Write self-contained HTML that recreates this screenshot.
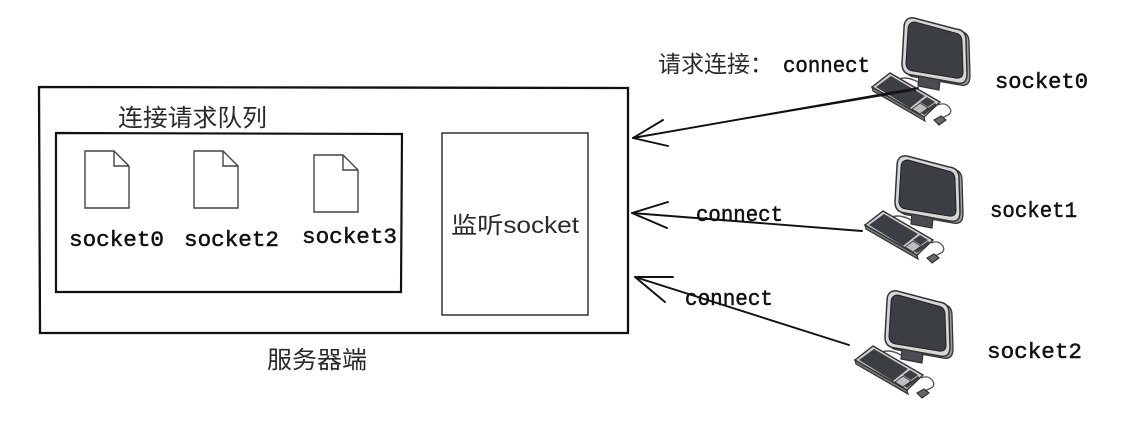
<!DOCTYPE html>
<html><head><meta charset="utf-8">
<style>
html,body{margin:0;padding:0;background:#fff;}
svg{display:block;}
.cjk{font-family:"Liberation Sans","Noto Sans CJK SC",sans-serif;fill:#2a2a2a;}
.hw{font-family:"Liberation Mono","Noto Sans CJK SC",monospace;fill:#111;stroke:#111;stroke-width:0.5;}
</style></head>
<body>
<svg width="1128" height="423" viewBox="0 0 1128 423" xmlns="http://www.w3.org/2000/svg">
<defs>
<g id="pc">
  <!-- monitor back/depth -->
  <path d="M 910,158 Q 900,157 900,168 L 898,203 Q 898,214 908,215 L 953,223 Q 963,225 963,214 L 962,180 Q 962,170 952,169 Z" fill="#9a9a9a" stroke="#333" stroke-width="1.3"/>
  <!-- monitor outer -->
  <path d="M 907,156 Q 897,155 897,166 L 895,202 Q 895,212 905,213 L 950,221 Q 960,223 960,212 L 959,178 Q 959,168 949,167 Z" fill="#d6d6d6" stroke="#333" stroke-width="1.5"/>
  <!-- screen -->
  <path d="M 908,160 Q 901,160 901,168 L 899,201 Q 899,208 906,209 L 949,216 Q 956,217 956,210 L 955,180 Q 955,172 948,171 Z" fill="#3b3e43" stroke="#222" stroke-width="1"/>
  <!-- stand -->
  <path d="M 912,214 L 933,218 L 932,228 L 911,224 Z" fill="#4a4c50" stroke="#333" stroke-width="1.2"/>
  <!-- cable to keyboard -->
  <path d="M 911,220 Q 900,214 892,217" fill="none" stroke="#555" stroke-width="1.5"/>
  <!-- keyboard thickness -->
  <path d="M 865,225 L 917,255 L 918,259 L 866,229 Z" fill="#777" stroke="#333" stroke-width="1.2"/>
  <!-- keyboard -->
  <path d="M 865,225 L 883,211 L 933,240 L 917,255 Z" fill="#cfcfcf" stroke="#333" stroke-width="1.4"/>
  <path d="M 869,225 L 884,214 L 918,234 L 903,246 Z" fill="#3b3e43"/>
  <path d="M 905,247 L 913,241 L 921,246 L 913,252 Z" fill="#bdbdbd" stroke="#333" stroke-width="0.8"/>
  <path d="M 913,240 L 920,235 L 928,240 L 921,245 Z" fill="#3b3e43"/>
  <path d="M 921,246 L 928,241 L 930,243 L 917,253 L 914,251 Z" fill="#3b3e43"/>
  <!-- mouse cable -->
  <path d="M 931,243 Q 938,240 942,245 Q 946,250 941,253 Q 937,255 935,256" fill="none" stroke="#555" stroke-width="1.3"/>
  <!-- mouse -->
  <path d="M 927,258 L 934,254 L 939,258 L 932,263 Z" fill="#666" stroke="#333" stroke-width="1.2"/>
</g>
<g id="file">
  <path d="M 0,0 H 29 L 44,15 V 57 H 0 Z" fill="#fff" stroke="#444" stroke-width="1.4"/>
  <path d="M 29,0 V 15 H 44" fill="none" stroke="#444" stroke-width="1.4"/>
</g>
</defs>

<!-- outer server box -->
<path d="M 39,87 L 628,88 L 628,333 L 40,333 Z" fill="none" stroke="#111" stroke-width="2.3"/>
<!-- queue box -->
<path d="M 56,133 L 402,134 L 401,292 L 56,292 Z" fill="none" stroke="#111" stroke-width="2.2"/>
<!-- listen box -->
<rect x="442" y="133" width="146" height="182" fill="none" stroke="#333" stroke-width="1.5"/>

<text class="cjk" x="118" y="126" font-size="24" textLength="149" lengthAdjust="spacingAndGlyphs">连接请求队列</text>
<text class="cjk" x="267" y="368" font-size="24" textLength="100" lengthAdjust="spacingAndGlyphs">服务器端</text>
<text class="cjk" x="451" y="233" font-size="23" textLength="128" lengthAdjust="spacingAndGlyphs">监听socket</text>

<use href="#file" x="85" y="151"/>
<use href="#file" x="194" y="151"/>
<use href="#file" x="314" y="155"/>

<text class="hw" x="69" y="246" font-size="22" textLength="95" lengthAdjust="spacingAndGlyphs">socket0</text>
<text class="hw" x="184" y="246" font-size="22" textLength="95" lengthAdjust="spacingAndGlyphs">socket2</text>
<text class="hw" x="302" y="243" font-size="22" textLength="95" lengthAdjust="spacingAndGlyphs">socket3</text>

<!-- computers -->
<use href="#pc" transform="translate(7,-138)"/>
<use href="#pc"/>
<use href="#pc" transform="translate(-10,135)"/>

<text class="hw" x="995" y="88" font-size="22" textLength="93" lengthAdjust="spacingAndGlyphs">socket0</text>
<text class="hw" x="990" y="217" font-size="22" textLength="87" lengthAdjust="spacingAndGlyphs">socket1</text>
<text class="hw" x="987" y="358" font-size="22" textLength="95" lengthAdjust="spacingAndGlyphs">socket2</text>

<!-- labels -->
<text class="cjk" x="658" y="72" font-size="23" textLength="115" lengthAdjust="spacingAndGlyphs">请求连接：</text>
<text class="hw" x="783" y="72" font-size="22" textLength="87" lengthAdjust="spacingAndGlyphs">connect</text>
<text class="hw" x="696" y="221" font-size="22" textLength="87" lengthAdjust="spacingAndGlyphs">connect</text>
<text class="hw" x="685" y="305" font-size="22" textLength="88" lengthAdjust="spacingAndGlyphs">connect</text>

<!-- arrows -->
<g fill="none" stroke="#111" stroke-width="1.9" stroke-linecap="round" stroke-linejoin="round">
  <path d="M 918,88 L 633,138"/>
  <path d="M 916,90 L 636,137" stroke-width="1"/>
  <path d="M 663,120 L 633,138 L 668,146"/>
  <path d="M 862,231 L 632,213"/>
  <path d="M 668,202 L 632,213 L 667,228"/>
  <path d="M 849,345 L 635,277"/>
  <path d="M 673,277 L 635,277 L 665,302"/>
</g>
</svg>
</body></html>
